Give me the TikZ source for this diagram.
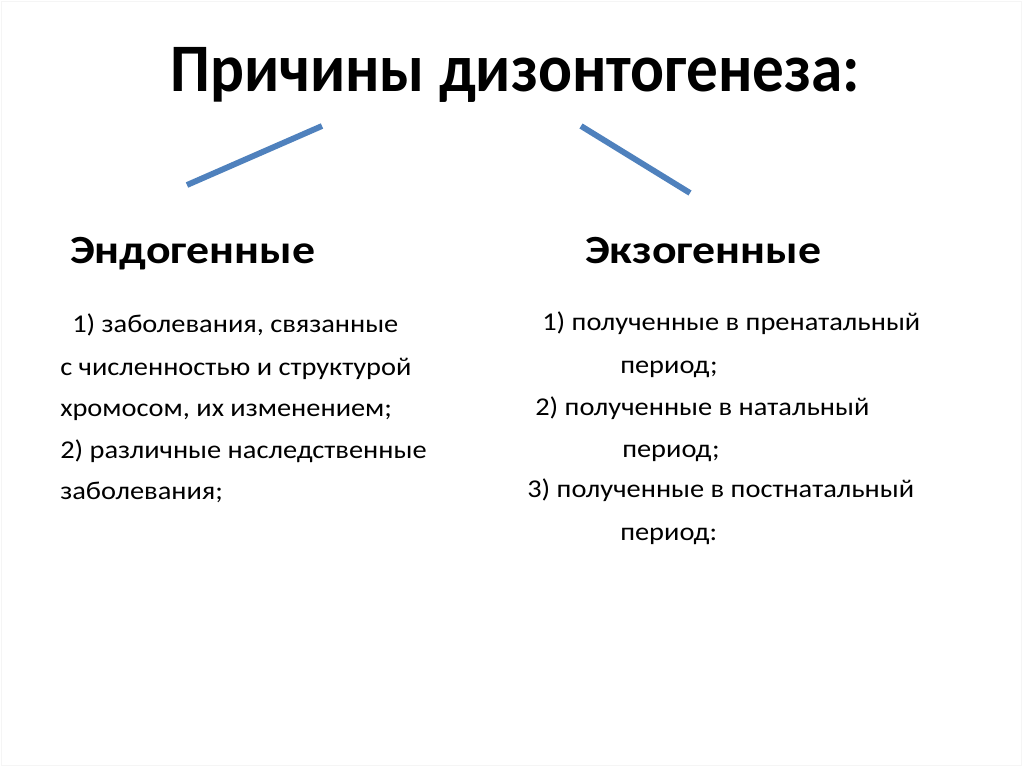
\documentclass[tikz,border=0pt]{standalone}
\usepackage{fontspec}
\setmainfont{Carlito}
\newfontfamily\titlefont[FakeStretch=0.93]{Carlito}
\newfontfamily\headfont[FakeStretch=1.145]{Carlito}
\newfontfamily\itemfont[FakeStretch=1.11]{Carlito}
\definecolor{branchblue}{HTML}{4F81BD}
\begin{document}
\begin{tikzpicture}[x=0.75pt, y=-0.75pt,
    title/.style={anchor=base west, inner sep=0pt, font=\titlefont\fontsize{51}{60}\selectfont\bfseries},
    head/.style={anchor=base west, inner sep=0pt, font=\headfont\fontsize{30}{36}\selectfont\bfseries},
    item/.style={anchor=base west, inner sep=0pt, font=\itemfont\fontsize{19.2}{23}\selectfont},
    branch/.style={line width=4.4pt, branchblue}]
    \useasboundingbox (0, 0) rectangle (1024, 767);
    \draw [black!4] (1, 1) rectangle (1021, 765);
    \node [title] (causes) at (170, 92) {Причины дизонтогенеза:};
    \node [head] (endo) at (70, 263) {Эндогенные};
    \node [head] (exo) at (585, 263) {Экзогенные};
    \coordinate (endotop) at (322, 126);
    \coordinate (endobot) at (187, 185);
    \coordinate (exotop) at (581, 126);
    \coordinate (exobot) at (690, 193);
    \draw [branch] (endotop) -- (endobot);
    \draw [branch] (exotop) -- (exobot);
    % endogenous causes
    \node [item] (en1) at (72, 332) {1) заболевания, связанные};
    \node [item] (en2) at (60, 375) {с численностью и структурой};
    \node [item] (en3) at (60, 416) {хромосом, их изменением;};
    \node [item] (en4) at (60, 458) {2) различные наследственные};
    \node [item] (en5) at (60, 499) {заболевания;};
    % exogenous causes
    \node [item] (ex1) at (542, 330) {1) полученные в пренатальный};
    \node [item] (ex2) at (620, 373) {период;};
    \node [item] (ex3) at (535, 415) {2) полученные в натальный};
    \node [item] (ex4) at (622, 457) {период;};
    \node [item] (ex5) at (527, 497) {3) полученные в постнатальный};
    \node [item] (ex6) at (620, 540) {период:};
\end{tikzpicture}
\end{document}
